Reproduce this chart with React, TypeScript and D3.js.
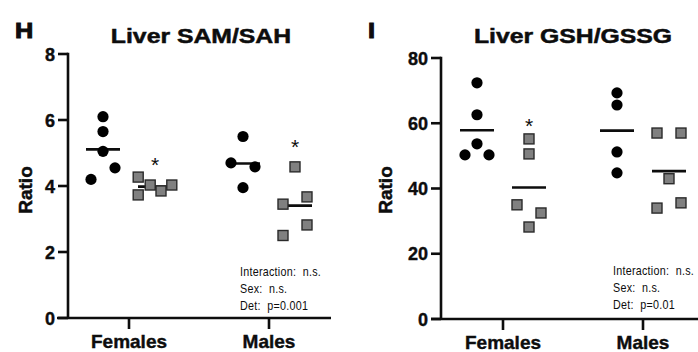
import React from "react";
import * as d3 from "d3";

const categories = ["Females", "Males"];

// Panel H: Liver SAM/SAH
const samFemCircles = [6.1, 5.65, 5.05, 4.55, 4.2];
const samFemCirclesJit = [0, 0, 0, 1, -1];
const samFemSquares = [4.27, 4.03, 3.73, 3.85, 4.03];
const samFemSquaresJit = [-1.4, -0.4, -1.4, 0.5, 1.4];
const samMaleCircles = [5.5, 4.7, 4.58, 3.95];
const samMaleCirclesJit = [0, -1, 1, 0];
const samMaleSquares = [4.58, 3.45, 3.67, 2.82, 2.5];
const samMaleSquaresJit = [0, -1, 1, 1, -1];
const samTicks = [0, 2, 4, 6, 8];
const samStars = [4.75, 5.3]; // value at which "*" sits over squares (Females, Males)
const samStats = ["Interaction:  n.s.", "Sex:  n.s.", "Det:  p=0.001"];

// Panel I: Liver GSH/GSSG
const gshFemCircles = [72.4, 62.6, 53.7, 50.3, 50.3];
const gshFemCirclesJit = [0, 0, 0, -1, 1];
const gshFemSquares = [55.2, 50.6, 35, 32.5, 28.2];
const gshFemSquaresJit = [0, 0, -1, 1, 0];
const gshMaleCircles = [69.3, 65.6, 51.2, 44.8];
const gshMaleCirclesJit = [0, 0, 0, 0];
const gshMaleSquares = [57, 57, 43, 34, 35.6];
const gshMaleSquaresJit = [-1, 1, 0, -1, 1];
const gshTicks = [0, 20, 40, 60, 80];
const gshStars = [60.5, null];
const gshStats = ["Interaction:  n.s.", "Sex:  n.s.", "Det:  p=0.01"];

const FONT = "Arial, 'Liberation Sans', Helvetica, sans-serif";

type Group = { values: number[]; jit: number[]; cat: string; side: number; shape: "circle" | "square" };

type PanelProps = {
  letter: string;
  letterX: number;
  title: string;
  titleCx: number;
  axisX: number;
  yTop: number;
  yBottom: number;
  domainMax: number;
  ticks: number[];
  catRange: [number, number];
  xAxisStart: number;
  xAxisEnd: number;
  groups: Group[];
  stars: (number | null)[];
  stats: string[];
  statsX: number;
  statsY: number;
  ratioX: number;
};

function Panel(p: PanelProps) {
  const y = d3.scaleLinear().domain([0, p.domainMax]).range([p.yBottom, p.yTop]);
  const x = d3.scalePoint<string>().domain(categories).range(p.catRange);
  const offset = 26;
  const jitUnit = 12;
  const meanHalf = 17;
  const stroke = 2.6;
  const ink = "#0d0d0d";
  return (
    <g>
      <text
        transform={`translate(${p.letterX},37.5) scale(1.15,1)`}
        fontFamily={FONT}
        fontWeight="bold"
        fontSize={22}
        fill={ink}
        stroke={ink}
        strokeWidth={1}
      >
        {p.letter}
      </text>
      <text
        transform={`translate(${p.titleCx},43) scale(1.18,1)`}
        textAnchor="middle"
        fontFamily={FONT}
        fontWeight="bold"
        fontSize={21}
        fill={ink}
        stroke={ink}
        strokeWidth={0.5}
      >
        {p.title}
      </text>
      {/* y axis */}
      <line x1={p.axisX} x2={p.axisX} y1={y(p.domainMax) - stroke / 2} y2={p.yBottom} stroke={ink} strokeWidth={stroke} />
      {p.ticks.map((t) => (
        <g key={t}>
          <line x1={p.axisX - 10} x2={p.axisX} y1={y(t)} y2={y(t)} stroke={ink} strokeWidth={stroke} />
          <text
            x={p.axisX - 13}
            y={y(t) + 6.5}
            textAnchor="end"
            fontFamily={FONT}
            fontWeight="bold"
            fontSize={18}
            fill={ink}
            stroke={ink}
            strokeWidth={0.4}
          >
            {t}
          </text>
        </g>
      ))}
      {/* x axis */}
      <line x1={p.xAxisStart} x2={p.xAxisEnd} y1={p.yBottom} y2={p.yBottom} stroke={ink} strokeWidth={stroke} />
      {categories.map((c) => (
        <g key={c}>
          <line x1={x(c)!} x2={x(c)!} y1={p.yBottom} y2={p.yBottom + 11} stroke={ink} strokeWidth={stroke} />
          <text
            x={x(c)!}
            y={p.yBottom + 30}
            textAnchor="middle"
            fontFamily={FONT}
            fontWeight="bold"
            fontSize={19}
            fill={ink}
            stroke={ink}
            strokeWidth={0.4}
          >
            {c}
          </text>
        </g>
      ))}
      <text
        transform={`translate(${p.ratioX},${190}) rotate(-90)`}
        textAnchor="middle"
        fontFamily={FONT}
        fontWeight="bold"
        fontSize={19}
        fill={ink}
        stroke={ink}
        strokeWidth={0.5}
      >
        Ratio
      </text>
      {/* mean lines */}
      {p.groups.map((g, i) => {
        const cx = x(g.cat)! + g.side * offset;
        const m = d3.mean(g.values)!;
        return (
          <line key={"m" + i} x1={cx - meanHalf} x2={cx + meanHalf} y1={y(m)} y2={y(m)} stroke={ink} strokeWidth={2.6} />
        );
      })}
      {/* points */}
      {p.groups.map((g, i) =>
        g.values.map((v, j) => {
          const cx = x(g.cat)! + g.side * offset + g.jit[j] * jitUnit;
          const cy = y(v);
          return g.shape === "circle" ? (
            <circle key={`p${i}-${j}`} cx={cx} cy={cy} r={5.6} fill="#000" />
          ) : (
            <rect
              key={`p${i}-${j}`}
              x={cx - 5}
              y={cy - 5}
              width={10}
              height={10}
              fill="#808080"
              stroke="#2a2a2a"
              strokeWidth={1.4}
            />
          );
        })
      )}
      {/* significance stars */}
      {p.stars.map((s, i) =>
        s == null ? null : (
          <text
            key={"s" + i}
            x={x(categories[i])! + offset}
            y={y(s) + 11}
            textAnchor="middle"
            fontFamily={FONT}
            fontSize={21}
            fill={ink}
          >
            *
          </text>
        )
      )}
      {p.stats.map((s, i) => (
        <text
          key={"t" + i}
          transform={`translate(${p.statsX},${p.statsY + i * 17}) scale(0.86,1)`}
          fontFamily={FONT}
          fontSize={12.5}
          letterSpacing={0.3}
          fill={ink}
          style={{ whiteSpace: "pre" }}
        >
          {s}
        </text>
      ))}
    </g>
  );
}

export default function App() {
  const samGroups: Group[] = [
    { values: samFemCircles, jit: samFemCirclesJit, cat: "Females", side: -1, shape: "circle" },
    { values: samFemSquares, jit: samFemSquaresJit, cat: "Females", side: 1, shape: "square" },
    { values: samMaleCircles, jit: samMaleCirclesJit, cat: "Males", side: -1, shape: "circle" },
    { values: samMaleSquares, jit: samMaleSquaresJit, cat: "Males", side: 1, shape: "square" },
  ];
  const gshGroups: Group[] = [
    { values: gshFemCircles, jit: gshFemCirclesJit, cat: "Females", side: -1, shape: "circle" },
    { values: gshFemSquares, jit: gshFemSquaresJit, cat: "Females", side: 1, shape: "square" },
    { values: gshMaleCircles, jit: gshMaleCirclesJit, cat: "Males", side: -1, shape: "circle" },
    { values: gshMaleSquares, jit: gshMaleSquaresJit, cat: "Males", side: 1, shape: "square" },
  ];
  return (
    <svg
      width={698}
      height={352}
      viewBox="0 0 698 352"
      style={{ position: "absolute", left: 0, top: 0, background: "#fff" }}
    >
      <rect x={0} y={0} width={698} height={352} fill="#fff" />
      <Panel
        letter="H"
        letterX={15}
        title="Liver SAM/SAH"
        titleCx={201}
        axisX={68}
        yTop={54}
        yBottom={318}
        domainMax={8}
        ticks={samTicks}
        catRange={[129, 269]}
        xAxisStart={57}
        xAxisEnd={331}
        groups={samGroups}
        stars={samStars}
        stats={samStats}
        statsX={240}
        statsY={276}
        ratioX={32}
      />
      <Panel
        letter="I"
        letterX={368}
        title="Liver GSH/GSSG"
        titleCx={573}
        axisX={441}
        yTop={58}
        yBottom={319}
        domainMax={80}
        ticks={gshTicks}
        catRange={[503, 643]}
        xAxisStart={431}
        xAxisEnd={700}
        groups={gshGroups}
        stars={gshStars}
        stats={gshStats}
        statsX={613}
        statsY={275}
        ratioX={392}
      />
    </svg>
  );
}
